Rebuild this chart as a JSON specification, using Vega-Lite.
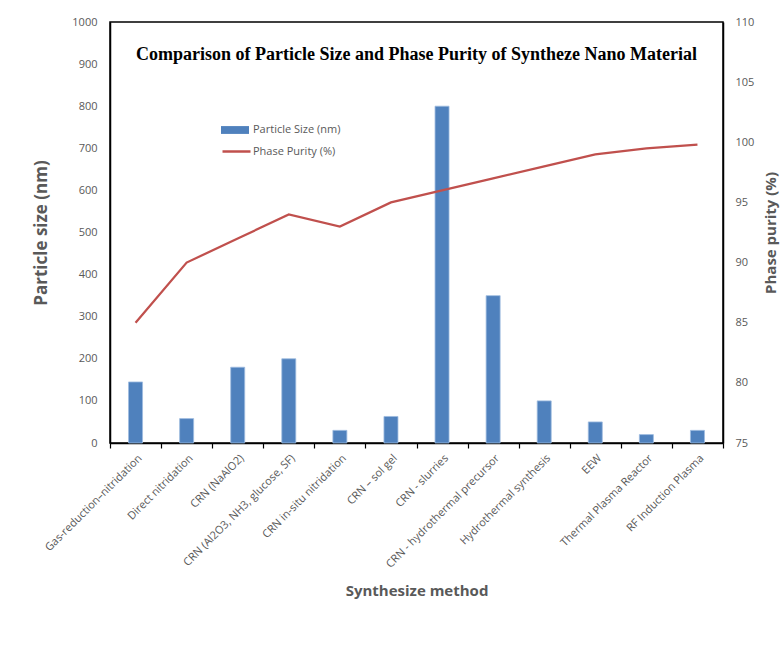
{
  "$schema": "https://vega.github.io/schema/vega-lite/v6.json",
  "width": 613,
  "height": 421,
  "autosize": {"type": "none"},
  "padding": {"left": 110, "top": 22, "right": 61, "bottom": 203},
  "background": "white",
  "title": {
    "text": "Comparison of Particle Size and Phase Purity of Syntheze Nano Material",
    "font": "Liberation Serif",
    "fontSize": 18,
    "fontWeight": "bold",
    "color": "#000000",
    "anchor": "middle",
    "orient": "top",
    "frame": "group",
    "baseline": "top",
    "offset": -48
  },
  "config": {
    "view": {"stroke": "#000000", "strokeWidth": 1.5},
    "axis": {
      "labelFont": "Open Sans",
      "labelFontSize": 11,
      "labelColor": "#595959",
      "titleFont": "Open Sans",
      "titleColor": "#595959",
      "titleFontWeight": "bold",
      "grid": false,
      "domainColor": "#000000",
      "domainWidth": 1.5
    },
    "legend": {
      "title": null,
      "orient": "none",
      "labelFont": "Open Sans",
      "labelFontSize": 11,
      "labelColor": "#595959",
      "labelOffset": 4,
      "symbolSize": 784
    }
  },
  "data": {
    "values": [
      {"method": "Gas-reduction–nitridation", "size": 145, "purity": 85},
      {"method": "Direct nitridation", "size": 58, "purity": 90},
      {"method": "CRN (NaAlO2)", "size": 180, "purity": 92},
      {"method": "CRN (Al2O3, NH3, glucose, SF)", "size": 200, "purity": 94},
      {"method": "CRN in-situ nitridation", "size": 30, "purity": 93},
      {"method": "CRN – sol gel", "size": 63, "purity": 95},
      {"method": "CRN - slurries", "size": 800, "purity": 96},
      {"method": "CRN - hydrothermal precursor", "size": 350, "purity": 97},
      {"method": "Hydrothermal synthesis", "size": 100, "purity": 98},
      {"method": "EEW", "size": 50, "purity": 99},
      {"method": "Thermal Plasma Reactor", "size": 20, "purity": 99.5},
      {"method": "RF Induction Plasma", "size": 30, "purity": 99.8}
    ]
  },
  "encoding": {
    "x": {
      "field": "method",
      "type": "nominal",
      "sort": null,
      "scale": {"paddingInner": 0, "paddingOuter": 0},
      "axis": {
        "title": "Synthesize method",
        "titleFontSize": 15,
        "titleBaseline": "alphabetic",
        "titleY": 152,
        "labelAngle": -45,
        "labelPadding": 4,
        "tickBand": "extent",
        "ticks": true,
        "tickColor": "#000000",
        "tickSize": 5,
        "tickWidth": 1.2
      }
    }
  },
  "layer": [
    {
      "mark": {"type": "bar", "size": 14, "stroke": "#9DBBE0", "strokeWidth": 0.8},
      "encoding": {
        "y": {
          "field": "size",
          "type": "quantitative",
          "scale": {"domain": [0, 1000], "nice": false},
          "axis": {
            "title": "Particle size (nm)",
            "titleFontSize": 17,
            "titleX": -69,
            "titleBaseline": "middle",
            "values": [0, 100, 200, 300, 400, 500, 600, 700, 800, 900, 1000],
            "format": "d",
            "ticks": false,
            "labelPadding": 13
          }
        },
        "fill": {
          "datum": "Particle Size (nm)",
          "type": "nominal",
          "scale": {"domain": ["Particle Size (nm)"], "range": ["#4F81BD"]},
          "legend": {
            "legendX": 111,
            "legendY": 94,
            "symbolType": "M-1,-0.28H1V0.28H-1Z",
            "symbolStrokeWidth": 0
          }
        }
      }
    },
    {
      "mark": {"type": "line", "strokeWidth": 2.25},
      "encoding": {
        "y": {
          "field": "purity",
          "type": "quantitative",
          "scale": {"domain": [75, 110], "nice": false, "zero": false},
          "axis": {
            "title": "Phase purity (%)",
            "titleFontSize": 15,
            "titleAngle": -90,
            "titleX": 47,
            "titleBaseline": "middle",
            "values": [75, 80, 85, 90, 95, 100, 105, 110],
            "ticks": false,
            "labelPadding": 12
          }
        },
        "stroke": {
          "datum": "Phase Purity (%)",
          "type": "nominal",
          "scale": {"domain": ["Phase Purity (%)"], "range": ["#C0504D"]},
          "legend": {
            "legendX": 111,
            "legendY": 114,
            "symbolType": "stroke",
            "symbolStrokeWidth": 2.5,
            "labelOffset": 1
          }
        }
      }
    }
  ],
  "resolve": {"scale": {"y": "independent"}}
}
